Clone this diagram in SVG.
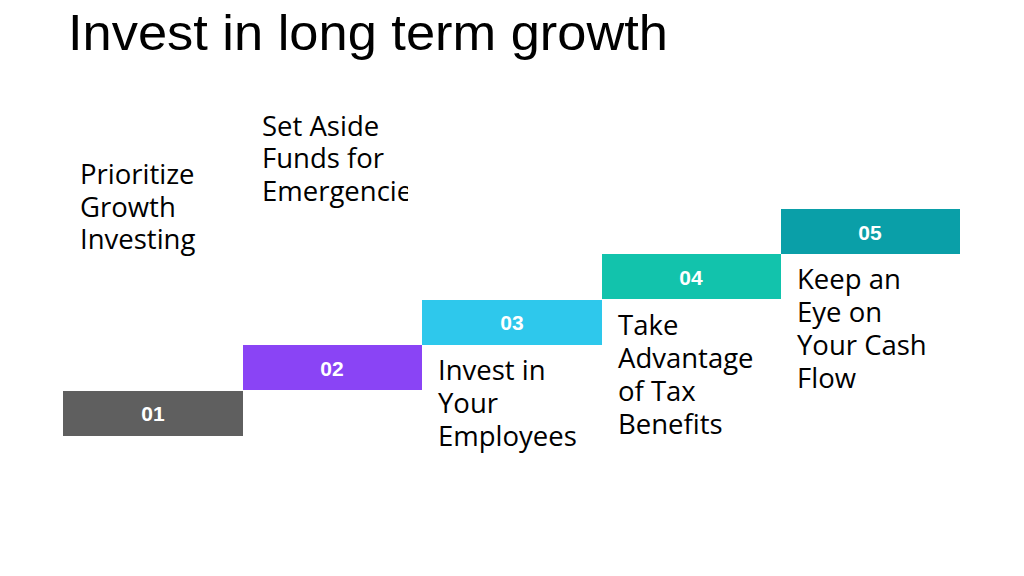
<svg xmlns="http://www.w3.org/2000/svg" width="1024" height="576" viewBox="0 0 1024 576">
<style>
.title{font-family:"Liberation Sans",Arial,sans-serif;font-size:50px;fill:#000}
.num{font-family:"Liberation Sans",Arial,sans-serif;font-size:21px;font-weight:bold;fill:#fff;text-anchor:middle}
.lbl{font-family:"Open Sans","Noto Sans",sans-serif;font-size:27.5px;fill:#000}
</style>
<defs>
<clipPath id="clip2"><rect x="255" y="100" width="153" height="120"/></clipPath>
</defs>
<rect width="1024" height="576" fill="#fff"/>
<text class="title" x="68" y="50" textLength="600" lengthAdjust="spacingAndGlyphs">Invest in long term growth</text>
<g id="connectors"></g>
<g id="step01">
<rect x="63" y="391" width="180" height="45" fill="#5f5f5f"/>
<text class="num" x="153" y="421">01</text>
<text class="lbl" x="80"><tspan x="80" y="184">Prioritize</tspan><tspan x="80" y="217">Growth</tspan><tspan x="80" y="249">Investing</tspan></text>
</g>
<g id="step02">
<rect x="243" y="345" width="179" height="45" fill="#8a44f5"/>
<text class="num" x="332" y="376">02</text>
<g clip-path="url(#clip2)">
<text class="lbl" x="262"><tspan x="262" y="136">Set Aside</tspan><tspan x="262" y="168">Funds for</tspan><tspan x="262" y="201">Emergencies</tspan></text>
</g>
</g>
<g id="step03">
<rect x="422" y="300" width="180" height="45" fill="#2ec8ec"/>
<text class="num" x="512" y="330">03</text>
<text class="lbl" x="438"><tspan x="438" y="380">Invest in</tspan><tspan x="438" y="413">Your</tspan><tspan x="438" y="446">Employees</tspan></text>
</g>
<g id="step04">
<rect x="602" y="254" width="179" height="45" fill="#12c3ac"/>
<text class="num" x="691" y="285">04</text>
<text class="lbl" x="618"><tspan x="618" y="335">Take</tspan><tspan x="618" y="368">Advantage</tspan><tspan x="618" y="401">of Tax</tspan><tspan x="618" y="434">Benefits</tspan></text>
</g>
<g id="step05">
<rect x="781" y="209" width="179" height="45" fill="#0a9fa8"/>
<text class="num" x="870" y="240">05</text>
<text class="lbl" x="797"><tspan x="797" y="289">Keep an</tspan><tspan x="797" y="322">Eye on</tspan><tspan x="797" y="355">Your Cash</tspan><tspan x="797" y="388">Flow</tspan></text>
</g>
</svg>
